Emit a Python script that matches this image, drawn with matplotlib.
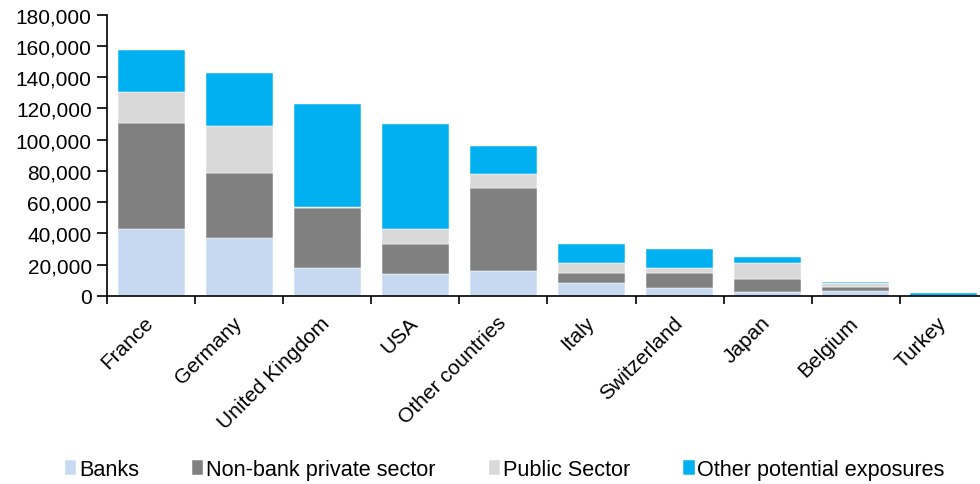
import matplotlib.pyplot as plt
import matplotlib.transforms as mtransforms
import numpy as np
from matplotlib.ticker import FuncFormatter, FixedLocator

plt.rcParams['font.family'] = ['Liberation Sans', 'DejaVu Sans']

countries = ['France', 'Germany', 'United Kingdom', 'USA', 'Other countries',
             'Italy', 'Switzerland', 'Japan', 'Belgium', 'Turkey']
banks = [43100, 37100, 18100, 14100, 16000, 8100, 5300, 2300, 3200, 100]
nonbank = [67600, 41800, 38000, 19000, 52900, 6800, 9600, 8500, 2800, 100]
public = [20000, 30100, 850, 10000, 9200, 6200, 3200, 10200, 2100, 100]
other = [26900, 33700, 65700, 66800, 17900, 11900, 12000, 3900, 1100, 1300]

series = [('Banks', banks, '#C6D9F1'),
          ('Non-bank private sector', nonbank, '#808080'),
          ('Public Sector', public, '#D9D9D9'),
          ('Other potential exposures', other, '#00B0F0')]

fig = plt.figure(figsize=(9.8, 4.85), dpi=100)
ax = fig.add_axes([107/980, 188/485, 873/980, 281.3/485])

x = np.arange(len(countries))
bottom = np.zeros(len(countries))
handles = []
for name, vals, col in series:
    vals = np.array(vals, dtype=float)
    b = ax.bar(x, vals, 0.76, bottom=bottom, color=col, edgecolor='white',
               linewidth=0.35, label=name)
    handles.append(b)
    bottom += vals

ax.set_xlim(-0.5, 9.41)
ax.set_ylim(0, 180000)
ax.set_yticks(np.arange(0, 180001, 20000))
ax.yaxis.set_major_formatter(FuncFormatter(lambda v, p: f'{int(v):,}'))
ax.tick_params(axis='y', labelsize=15, length=7, width=1.2, direction='out', pad=4)

ax.set_xticks(x)
ax.set_xticklabels(countries, rotation=45, ha='right', rotation_mode='anchor', fontsize=15)
ax.tick_params(axis='x', which='major', length=0, pad=12)
shift = mtransforms.ScaledTranslation(-7/100, 0, fig.dpi_scale_trans)
for lab in ax.get_xticklabels():
    lab.set_transform(lab.get_transform() + shift)
ax.xaxis.set_minor_locator(FixedLocator(np.arange(-0.5, 10, 1)))
ax.tick_params(axis='x', which='minor', length=6, width=1.2, direction='out')

for s in ['top', 'right']:
    ax.spines[s].set_visible(False)
for s in ['left', 'bottom']:
    ax.spines[s].set_linewidth(1.2)

fig.legend(handles=handles, loc='lower center', bbox_to_anchor=(0.515, -0.032),
           ncol=4, frameon=False, fontsize=15.6, handlelength=0.53, handleheight=0.68,
           handletextpad=0.12, columnspacing=2.45)

fig.savefig('out.png', dpi=100)
